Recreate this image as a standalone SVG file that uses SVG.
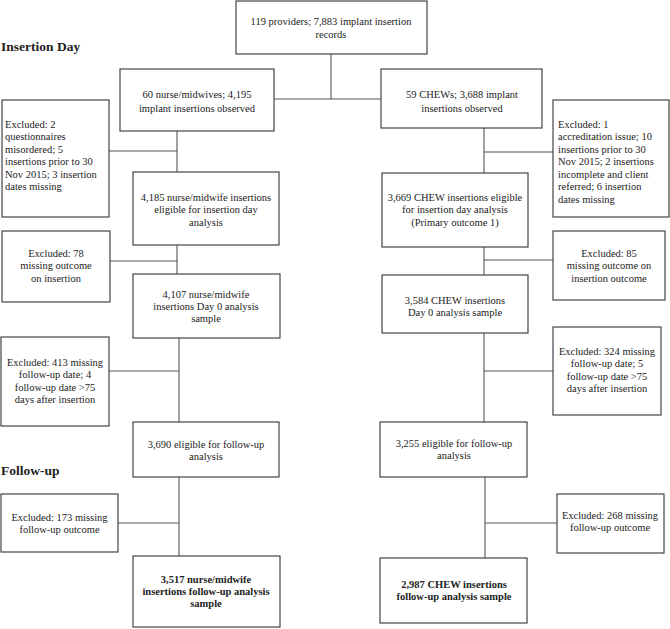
<svg xmlns="http://www.w3.org/2000/svg" width="670" height="629" viewBox="0 0 670 629">
<style>
.box{fill:#fff;stroke:#444;stroke-width:1.2}
.ln{stroke:#555;stroke-width:1.1;fill:none}
text{font-family:"Liberation Serif","Times New Roman",serif;font-size:10.5px;fill:#222}
.c{text-anchor:middle}
.b{font-weight:bold}
.h{font-weight:bold;font-size:13.5px}
</style>
<rect width="670" height="629" fill="#fff"/>
<g id="connectors">
<path class="ln" d="M331,54V99M274,99H381"/>
<path class="ln" d="M177,131V172M109,151H177"/>
<path class="ln" d="M177,245V274M110,261H177"/>
<path class="ln" d="M179,338V422M109,371H179"/>
<path class="ln" d="M179,477V556M118,523H179"/>
<path class="ln" d="M484,128V173M484,152H553"/>
<path class="ln" d="M484,247V275M484,260H553"/>
<path class="ln" d="M484,333V422M484,371H553"/>
<path class="ln" d="M485,477V558M485,523H557"/>
</g>
<g id="label-insertion-day"><text class="h" x="1" y="51">Insertion Day</text></g>
<g id="label-follow-up"><text class="h" x="1" y="475">Follow-up</text></g>
<g id="n-top">
<rect class="box" x="236" y="1" width="191" height="53"/>
<text class="c" x="331" y="24.5">119 providers; 7,883 implant insertion</text>
<text class="c" x="331" y="37.5">records</text>
</g>
<g id="n-nurse">
<rect class="box" x="120" y="69" width="154" height="62"/>
<text class="c" x="197" y="97.5">60 nurse/midwives; 4,195</text>
<text class="c" x="197" y="111.5">implant insertions observed</text>
</g>
<g id="n-chew">
<rect class="box" x="381" y="69" width="161" height="59"/>
<text class="c" x="462" y="97.5">59 CHEWs; 3,688 implant</text>
<text class="c" x="462" y="111.5">insertions observed</text>
</g>
<g id="n-excl-left1">
<rect class="box" x="2" y="100" width="107" height="117"/>
<text x="5" y="127.5">Excluded: 2</text>
<text x="5" y="140">questionnaires</text>
<text x="5" y="152.5">misordered; 5</text>
<text x="5" y="165">insertions prior to 30</text>
<text x="5" y="177.5">Nov 2015; 3 insertion</text>
<text x="5" y="190">dates missing</text>
</g>
<g id="n-excl-right1">
<rect class="box" x="553" y="100" width="116" height="117"/>
<text x="558" y="127.5">Excluded: 1</text>
<text x="558" y="140">accreditation issue; 10</text>
<text x="558" y="152.5">insertions prior to 30</text>
<text x="558" y="165">Nov 2015; 2 insertions</text>
<text x="558" y="177.5">incomplete and client</text>
<text x="558" y="190">referred; 6 insertion</text>
<text x="558" y="202.5">dates missing</text>
</g>
<g id="n-nurse-eligible">
<rect class="box" x="133" y="172" width="146" height="73"/>
<text class="c" x="206" y="200.5">4,185 nurse/midwife insertions</text>
<text class="c" x="206" y="213">eligible for insertion day</text>
<text class="c" x="206" y="225.5">analysis</text>
</g>
<g id="n-chew-eligible">
<rect class="box" x="382" y="173" width="146" height="74"/>
<text class="c" x="455" y="200.5">3,669 CHEW insertions eligible</text>
<text class="c" x="455" y="213">for insertion day analysis</text>
<text class="c" x="455" y="225.5">(Primary outcome 1)</text>
</g>
<g id="n-excl-left2">
<rect class="box" x="2" y="231" width="108" height="71"/>
<text class="c" x="56" y="256.5">Excluded: 78</text>
<text class="c" x="56" y="269">missing outcome</text>
<text class="c" x="56" y="281.5">on insertion</text>
</g>
<g id="n-excl-right2">
<rect class="box" x="553" y="231" width="112" height="69"/>
<text class="c" x="609" y="256.5">Excluded: 85</text>
<text class="c" x="609" y="269">missing outcome on</text>
<text class="c" x="609" y="281.5">insertion outcome</text>
</g>
<g id="n-nurse-day0">
<rect class="box" x="133" y="274" width="147" height="64"/>
<text class="c" x="206" y="297.5">4,107 nurse/midwife</text>
<text class="c" x="206" y="310">insertions Day 0 analysis</text>
<text class="c" x="206" y="322">sample</text>
</g>
<g id="n-chew-day0">
<rect class="box" x="382" y="275" width="146" height="58"/>
<text class="c" x="455" y="303.5">3,584 CHEW insertions</text>
<text class="c" x="455" y="316">Day 0 analysis sample</text>
</g>
<g id="n-excl-left3">
<rect class="box" x="1" y="337" width="108" height="89"/>
<text class="c" x="55" y="365.5">Excluded: 413 missing</text>
<text class="c" x="55" y="378">follow-up date; 4</text>
<text class="c" x="55" y="390.5">follow-up date &gt;75</text>
<text class="c" x="55" y="403">days after insertion</text>
</g>
<g id="n-excl-right3">
<rect class="box" x="553" y="327" width="108" height="88"/>
<text class="c" x="607" y="354.5">Excluded: 324 missing</text>
<text class="c" x="607" y="367">follow-up date; 5</text>
<text class="c" x="607" y="379.5">follow-up date &gt;75</text>
<text class="c" x="607" y="392">days after insertion</text>
</g>
<g id="n-nurse-fu">
<rect class="box" x="133" y="422" width="146" height="55"/>
<text class="c" x="206" y="447.5">3,690 eligible for follow-up</text>
<text class="c" x="206" y="460">analysis</text>
</g>
<g id="n-chew-fu">
<rect class="box" x="380" y="422" width="147" height="55"/>
<text class="c" x="454" y="446.5">3,255 eligible for follow-up</text>
<text class="c" x="454" y="459">analysis</text>
</g>
<g id="n-excl-left4">
<rect class="box" x="1" y="494" width="117" height="58"/>
<text class="c" x="59.5" y="520.5">Excluded: 173 missing</text>
<text class="c" x="59.5" y="533">follow-up outcome</text>
</g>
<g id="n-excl-right4">
<rect class="box" x="557" y="494" width="107" height="59"/>
<text class="c" x="610" y="518.5">Excluded: 268 missing</text>
<text class="c" x="610" y="531">follow-up outcome</text>
</g>
<g id="n-nurse-final">
<rect class="box" x="133" y="556" width="147" height="71"/>
<text class="c b" x="206" y="582.5">3,517 nurse/midwife</text>
<text class="c b" x="206" y="595">insertions follow-up analysis</text>
<text class="c b" x="206" y="607">sample</text>
</g>
<g id="n-chew-final">
<rect class="box" x="380" y="558" width="147" height="65"/>
<text class="c b" x="454" y="587.5">2,987 CHEW insertions</text>
<text class="c b" x="454" y="600">follow-up analysis sample</text>
</g>
</svg>
